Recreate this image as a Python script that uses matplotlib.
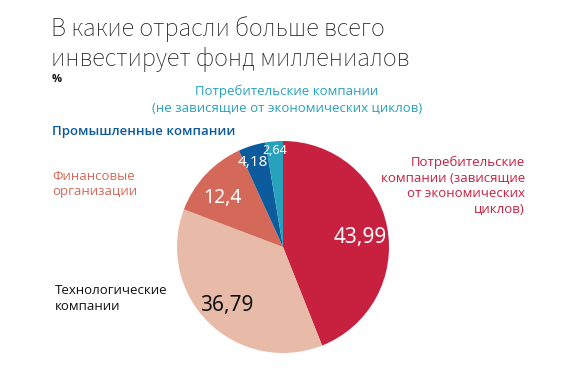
import matplotlib
matplotlib.use("Agg")
import matplotlib.pyplot as plt

labels = ["Потребительские\nкомпании (зависящие\nот экономических\nциклов)",
          "Технологические\nкомпании",
          "Финансовые\nорганизации",
          "Промышленные компании",
          "Потребительские компании\n(не зависящие от экономических циклов)"]
values = [43.99, 36.79, 12.4, 4.18, 2.64]
value_text = ["43,99", "36,79", "12,4", "4,18", "2,64"]
colors = ["#C8203F", "#E8BBA8", "#D4695A", "#0C5B9C", "#26A2BD"]

plt.rcParams['font.family'] = ['Open Sans', 'DejaVu Sans']
fig = plt.figure(figsize=(5.7, 3.8), dpi=100)
ax = fig.add_axes([0, 0, 1, 1])

cx, cy, r = 283, 380 - 247, 106
ax.pie(values, colors=colors, startangle=90, counterclock=False,
       center=(cx, cy), radius=r, frame=True,
       wedgeprops=dict(linewidth=0))
ax.set_xlim(0, 570)
ax.set_ylim(0, 380)
ax.set_aspect('equal')
ax.axis('off')

def Y(py):
    return 380 - py

for i, t in enumerate(["В какие отрасли больше всего", "инвестирует фонд миллениалов"]):
    ax.text(51, Y(29 + 30 * i), t, family=['Source Sans 3', 'DejaVu Sans'],
            fontsize=18.7, color='#1a1a1a', va='center', ha='left')
ax.text(52, Y(80), "%", fontsize=8, fontweight='bold', color='#111111', va='center')

# category labels
ax.text(287, Y(100), labels[4], fontsize=9.5, color=colors[4], ha='center', va='center',
        linespacing=1.35)
ax.text(52, Y(132), labels[3], fontsize=9.5, color=colors[3], ha='left', va='center',
        fontweight='semibold')
ax.text(52, Y(184), labels[2], fontsize=9.5, color='#D4695A', ha='left', va='center',
        linespacing=1.3)
ax.text(55, Y(298), labels[1], fontsize=9.5, color='#111111', ha='left', va='center',
        linespacing=1.3)
ax.text(525, Y(186), labels[0], fontsize=9.5, color=colors[0], ha='right', va='center',
        linespacing=1.25)

# value labels
vf = ['Noto Sans', 'DejaVu Sans']
ax.text(360, Y(238), value_text[0], family=vf, fontsize=15, color='white', ha='center', va='center',
        fontweight='medium')
ax.text(227, Y(305), value_text[1], family=vf, fontsize=15, color='#111111', ha='center', va='center',
        fontweight='medium')
ax.text(223, Y(198), value_text[2], family=vf, fontsize=14, color='white', ha='center', va='center',
        fontweight='medium')
ax.text(253, Y(163), value_text[3], family=vf, fontsize=11, color='white', ha='center', va='center',
        fontweight='medium')
ax.text(275, Y(150), value_text[4], family=vf, fontsize=9, color='white', ha='center', va='center',
        fontweight='medium')

fig.savefig("out.png", dpi=100, facecolor='white')
